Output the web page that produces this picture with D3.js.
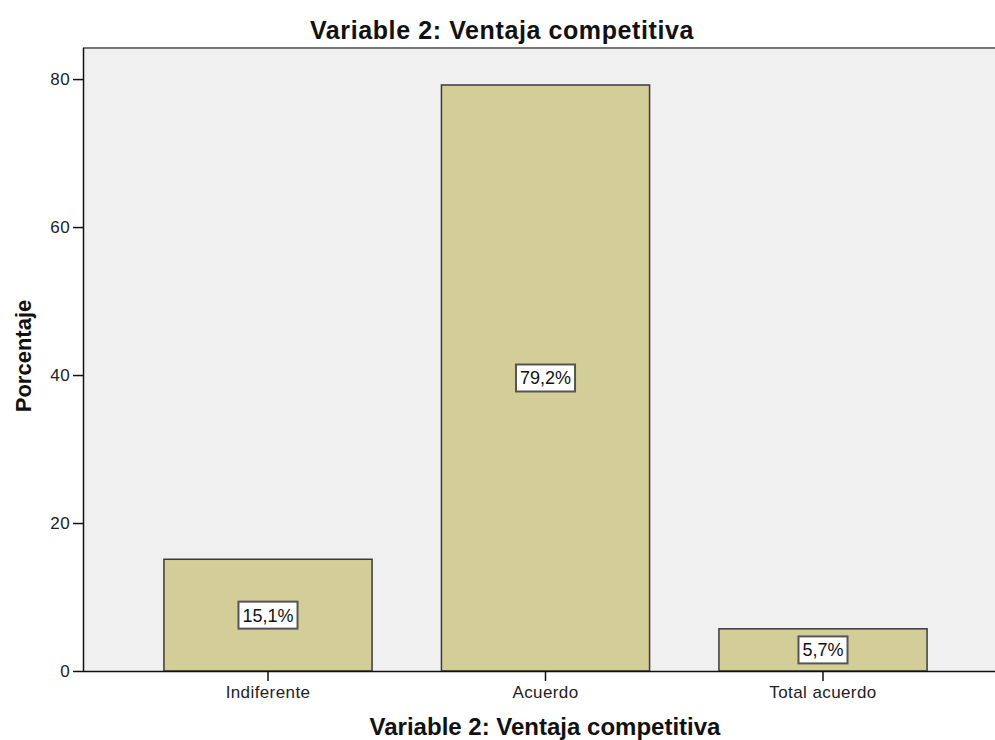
<!DOCTYPE html>
<html>
<head>
<meta charset="utf-8">
<script src="https://cdn.jsdelivr.net/npm/d3@7"></script>
<style>
  body { margin: 0; background: #fff; }
  text { font-family: "Liberation Sans", Arial, sans-serif; }
</style>
</head>
<body>
<div id="chart"></div>
<script>
// Data
const categories = ["Indiferente", "Acuerdo", "Total acuerdo"];
const percentages = [15.1, 79.2, 5.7];
const valueLabels = ["15,1%", "79,2%", "5,7%"];
const yTicks = [0, 20, 40, 60, 80];

const width = 995;
const height = 740;
const plot = { left: 83, top: 48, right: 995, bottom: 671 };

const svg = d3.select("#chart")
  .append("svg")
  .attr("width", width)
  .attr("height", height);

// Scales
const x = d3.scaleBand()
  .domain(categories)
  .range([129.25, 961.75])
  .paddingInner(0.25)
  .paddingOuter(0.125);
const y = d3.scaleLinear()
  .domain([0, 84.2])
  .range([plot.bottom, plot.top]);

// Plot background
svg.append("rect")
  .attr("x", plot.left)
  .attr("y", plot.top)
  .attr("width", plot.right - plot.left)
  .attr("height", plot.bottom - plot.top)
  .attr("fill", "#f0f0f0");
svg.append("line")
  .attr("x1", plot.left).attr("x2", plot.right)
  .attr("y1", plot.top).attr("y2", plot.top)
  .attr("stroke", "#777").attr("stroke-width", 2);

// Bars
svg.selectAll(".bar")
  .data(categories)
  .enter().append("rect")
  .attr("class", "bar")
  .attr("x", d => x(d))
  .attr("y", (d, i) => y(percentages[i]))
  .attr("width", x.bandwidth())
  .attr("height", (d, i) => y(0) - y(percentages[i]))
  .attr("fill", "#d3ce97")
  .attr("stroke", "#3a3a3a")
  .attr("stroke-width", 1.5);

// Axes
const yAxis = svg.append("g")
  .attr("transform", `translate(${plot.left}, 0)`)
  .call(d3.axisLeft(y).tickValues(yTicks).tickSize(10).tickPadding(3).tickSizeOuter(0));
const xAxis = svg.append("g")
  .attr("transform", `translate(0, ${plot.bottom})`)
  .call(d3.axisBottom(x).tickSize(10).tickPadding(5).tickSizeOuter(0));
xAxis.select(".domain").attr("d", `M${plot.left},0.5H${plot.right}`);
yAxis.select(".domain").attr("d", `M0.5,${plot.top}V${plot.bottom}`);
[xAxis, yAxis].forEach(g => {
  g.selectAll(".domain, .tick line").attr("stroke", "#111").attr("stroke-width", 1.5);
  g.selectAll("text")
    .attr("fill", "#222")
    .style("font-size", "17px")
    .style("letter-spacing", "0.4px")
    .style("font-family", "'Liberation Sans', Arial, sans-serif");
});

// Value labels
const labels = svg.selectAll(".vlabel")
  .data(categories)
  .enter().append("g")
  .attr("class", "vlabel")
  .attr("transform", (d, i) =>
    `translate(${x(d) + x.bandwidth() / 2}, ${(y(percentages[i]) + y(0)) / 2})`);
labels.append("text")
  .attr("text-anchor", "middle")
  .attr("dy", "0.36em")
  .style("font-size", "18px")
  .attr("fill", "#111")
  .text((d, i) => valueLabels[i]);
labels.each(function() {
  const g = d3.select(this);
  const bb = g.select("text").node().getBBox();
  g.insert("rect", "text")
    .attr("x", bb.x - 4)
    .attr("y", -13.5)
    .attr("width", bb.width + 8)
    .attr("height", 27)
    .attr("fill", "#fff")
    .attr("stroke", "#555")
    .attr("stroke-width", 2);
});

// Titles
svg.append("text")
  .attr("x", 502)
  .attr("y", 39)
  .attr("text-anchor", "middle")
  .style("font-size", "25px")
  .style("letter-spacing", "0.6px")
  .style("font-weight", "bold")
  .attr("fill", "#111")
  .text("Variable 2: Ventaja competitiva");
svg.append("text")
  .attr("x", 545)
  .attr("y", 735)
  .attr("text-anchor", "middle")
  .style("font-size", "24px")
  .style("font-weight", "bold")
  .attr("fill", "#111")
  .text("Variable 2: Ventaja competitiva");
svg.append("text")
  .attr("transform", "rotate(-90)")
  .attr("x", -356)
  .attr("y", 31)
  .attr("text-anchor", "middle")
  .style("font-size", "22px")
  .style("font-weight", "bold")
  .attr("fill", "#111")
  .text("Porcentaje");
</script>
</body>
</html>
